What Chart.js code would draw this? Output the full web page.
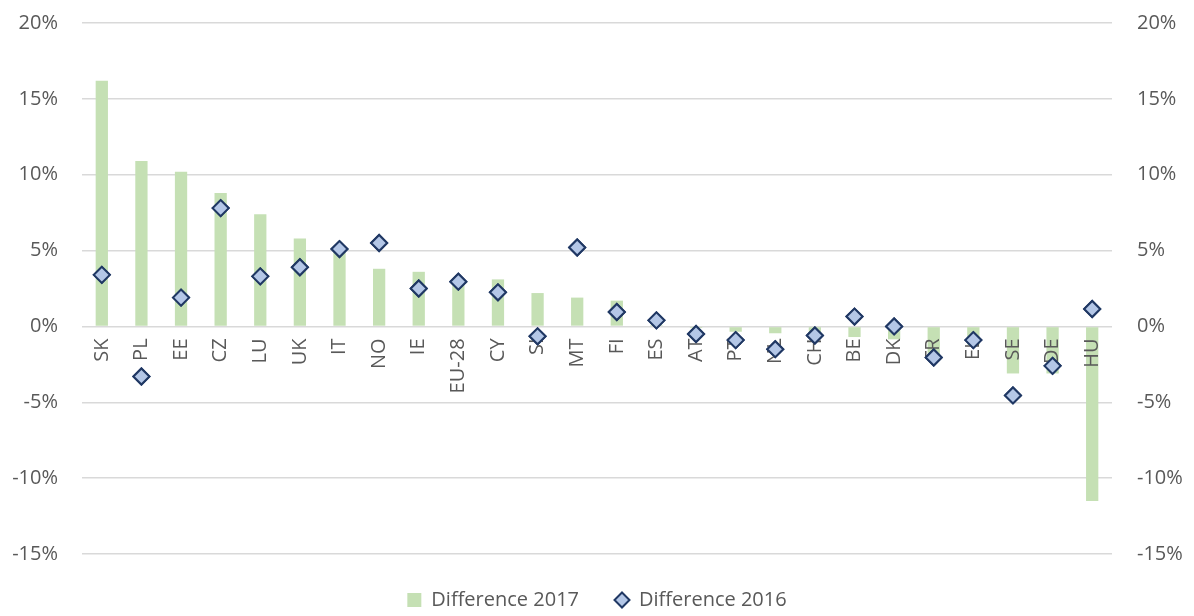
<!DOCTYPE html>
<html>
<head>
<meta charset="utf-8">
<script src="https://cdn.jsdelivr.net/npm/chart.js@4.4.1/dist/chart.umd.min.js"></script>
<style>
  html, body { margin: 0; padding: 0; background: #fff; }
  #wrap { width: 1194px; height: 616px; }
</style>
</head>
<body>
<div id="wrap"><canvas id="chart"></canvas></div>
<script>
  const paises = ['SK','PL','EE','CZ','LU','UK','IT','NO','IE','EU-28','CY','SI','MT','FI','ES','AT','PT','NL','CH','BE','DK','FR','EL','SE','DE','HU'];
  const dif2017 = [16.2, 10.9, 10.2, 8.8, 7.4, 5.8, 5.2, 3.8, 3.6, 2.9, 3.1, 2.2, 1.9, 1.7, 0.1, -0.1, -0.35, -0.45, -0.5, -0.7, -0.85, -2.1, -1.2, -3.1, -3.1, -11.5];
  const dif2016 = [3.4, -3.3, 1.9, 7.8, 3.3, 3.9, 5.1, 5.5, 2.5, 2.95, 2.25, -0.65, 5.2, 0.95, 0.4, -0.5, -0.9, -1.5, -0.6, 0.65, 0.0, -2.05, -0.9, -4.55, -2.6, 1.15];
  const ticksY = [-15, -10, -5, 0, 5, 10, 15, 20];

  const cinza = '#595959';
  const azul = '#b4c7e7';
  const marinho = '#203864';
  const fonte = {family: 'Open Sans', size: 20};

  // losango pequeno pra legenda (o padrão do chart.js sai grande demais)
  function losango() {
    const c = document.createElement('canvas');
    c.width = 18; c.height = 18;
    const g = c.getContext('2d');
    g.beginPath();
    g.moveTo(9, 1.5); g.lineTo(16.5, 9); g.lineTo(9, 16.5); g.lineTo(1.5, 9); g.closePath();
    g.fillStyle = azul; g.fill();
    g.lineWidth = 2; g.strokeStyle = marinho; g.stroke();
    return c;
  }
  const iconeLosango = losango();

  const eixoY = (pos) => ({
    position: pos,
    min: ticksY[0],
    max: ticksY[ticksY.length - 1],
    afterBuildTicks: s => { s.ticks = ticksY.map(v => ({value: v})); },
    grid: {display: pos === 'left', color: '#d9d9d9', lineWidth: 1.5, drawTicks: false},
    border: {display: false},
    ticks: {color: cinza, font: fonte, padding: pos === 'left' ? 24 : 25, callback: v => v + '%'},
    afterFit: s => {
      s.width = 82;
      // o padding dos ticks não deve empurrar a área do gráfico pra baixo
      s.paddingTop = 0;
      s.paddingBottom = 0;
    }
  });

  // rótulos do eixo x ficam por cima das barras, mas os losangos por cima de tudo
  const losangosPorCima = {
    id: 'losangosPorCima',
    afterDraw(chart) {
      chart.ctx.save();
      chart.getDatasetMeta(0).controller.draw();
      chart.ctx.restore();
    }
  };

  new Chart(document.getElementById('chart'), {
    type: 'bar',
    data: {
      labels: paises,
      datasets: [
        {
          type: 'line',
          label: 'Difference 2016',
          data: dif2016,
          showLine: false,
          pointStyle: 'rectRot',
          pointRadius: 8,
          pointHoverRadius: 8,
          pointBackgroundColor: azul,
          pointBorderColor: marinho,
          pointBorderWidth: 2,
          backgroundColor: azul,
          borderColor: marinho,
          borderWidth: 2,
          order: 1
        },
        {
          label: 'Difference 2017',
          data: dif2017,
          backgroundColor: '#c5e0b4',
          borderWidth: 0,
          categoryPercentage: 1,
          barPercentage: 0.31,
          pointStyle: 'rect',
          order: 2
        }
      ]
    },
    options: {
      responsive: true,
      maintainAspectRatio: false,
      animation: false,
      layout: {padding: {top: 23, bottom: -4, left: 0, right: 0}},
      plugins: {
        tooltip: {enabled: false},
        legend: {
          position: 'bottom',
          reverse: true,
          labels: {
            usePointStyle: true,
            boxWidth: 14,
            boxHeight: 14,
            padding: 36,
            color: cinza,
            font: fonte,
            generateLabels: chart => {
              const itens = Chart.defaults.plugins.legend.labels.generateLabels(chart);
              itens.forEach(it => {
                if (it.datasetIndex === 0) { it.pointStyle = iconeLosango; }
                it.lineWidth = 0;
              });
              return itens;
            }
          }
        }
      },
      scales: {
        x: {
          position: {y: 0},
          grid: {display: false, drawTicks: false},
          border: {display: false},
          ticks: {color: cinza, font: fonte, maxRotation: 90, minRotation: 90, padding: 12, autoSkip: false, z: 1}
        },
        y: eixoY('left'),
        y2: eixoY('right')
      }
    },
    plugins: [losangosPorCima]
  });
</script>
</body>
</html>
